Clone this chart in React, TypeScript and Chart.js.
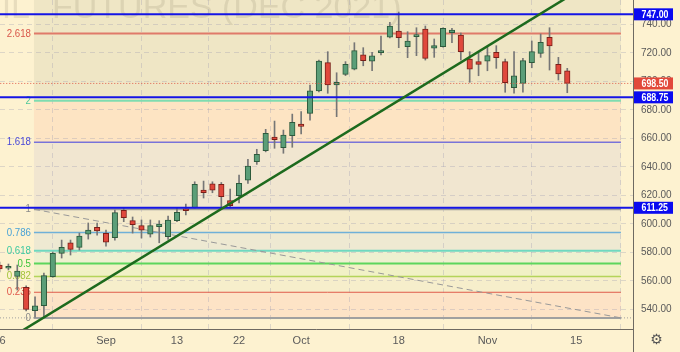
import React, { useEffect, useRef } from "react";
import { Chart, registerables } from "chart.js";

Chart.register(...registerables);

// ---------- DATA ----------
const dates = [
  "Aug 16", "Aug 17", "Aug 18", "Aug 19", "Aug 20", "Aug 23", "Aug 24", "Aug 25", "Aug 26", "Aug 27",
  "Aug 30", "Aug 31", "Sep 1", "Sep 2", "Sep 3", "Sep 6", "Sep 7", "Sep 8", "Sep 9", "Sep 10",
  "Sep 13", "Sep 14", "Sep 15", "Sep 16", "Sep 17", "Sep 20", "Sep 21", "Sep 22", "Sep 23", "Sep 24",
  "Sep 27", "Sep 28", "Sep 29", "Sep 30", "Oct 1", "Oct 4", "Oct 5", "Oct 6", "Oct 7", "Oct 8",
  "Oct 11", "Oct 12", "Oct 13", "Oct 14", "Oct 15", "Oct 18", "Oct 19", "Oct 20", "Oct 21", "Oct 22",
  "Oct 25", "Oct 26", "Oct 27", "Oct 28", "Oct 29", "Nov 1", "Nov 2", "Nov 3", "Nov 4", "Nov 5",
  "Nov 8", "Nov 9", "Nov 10", "Nov 11", "Nov 12",
];
const opens = [
  571.1, 568.8, 563.1, 555.4, 539.0, 542.5, 562.9, 579.3, 586.7, 583.5,
  592.8, 597.5, 593.3, 590.2, 609.5, 602.2, 598.7, 592.8, 598.0, 590.9,
  602.2, 610.4, 611.3, 623.7, 628.1, 627.7, 616.3, 619.7, 630.7, 643.6,
  651.3, 660.9, 653.4, 661.8, 670.0, 677.5, 693.2, 713.1, 697.4, 704.9,
  708.6, 718.5, 714.2, 720.1, 730.9, 735.3, 724.3, 731.3, 736.7, 723.2,
  724.3, 734.1, 732.5, 715.6, 713.8, 714.2, 720.3, 713.8, 695.5, 698.6,
  713.1, 719.6, 730.9, 711.9, 707.4,
];
const highs = [
  573.2, 571.8, 571.1, 556.5, 548.8, 565.5, 580.2, 588.6, 588.6, 593.5,
  600.6, 600.6, 595.6, 609.7, 611.1, 604.8, 602.7, 602.7, 602.2, 605.5,
  611.1, 613.9, 629.5, 630.0, 629.5, 629.0, 624.4, 634.2, 645.3, 652.3,
  666.3, 672.1, 665.8, 677.0, 678.7, 697.4, 714.9, 720.8, 706.0, 713.8,
  727.1, 723.6, 720.3, 731.8, 741.4, 748.6, 734.8, 737.6, 738.8, 729.7,
  737.6, 737.2, 733.9, 720.8, 720.8, 724.3, 725.0, 715.6, 720.8, 716.1,
  728.3, 733.2, 737.6, 716.8, 709.1,
];
const lows = [
  566.2, 567.6, 553.5, 538.8, 534.5, 534.2, 562.5, 576.0, 578.1, 581.6,
  589.3, 592.1, 584.4, 588.6, 601.5, 593.5, 590.0, 590.7, 586.7, 589.1,
  601.5, 606.2, 611.0, 618.1, 621.8, 611.8, 611.1, 614.6, 628.4, 641.7,
  650.5, 653.0, 649.5, 653.7, 663.0, 672.8, 692.5, 691.6, 675.2, 704.0,
  708.0, 710.9, 707.4, 718.5, 730.5, 723.6, 716.6, 718.0, 714.9, 716.8,
  724.0, 727.1, 714.9, 699.3, 703.9, 707.4, 709.1, 692.3, 691.6, 692.3,
  709.5, 716.8, 707.9, 700.9, 692.0,
];
const closes = [
  568.3, 570.2, 566.9, 540.0, 542.5, 563.6, 579.3, 583.5, 582.1, 591.4,
  595.6, 595.1, 587.2, 607.9, 604.3, 599.4, 595.6, 598.7, 599.8, 602.7,
  608.1, 609.2, 627.7, 621.8, 623.7, 619.0, 612.7, 628.4, 640.6, 648.8,
  663.5, 659.0, 662.3, 671.2, 668.4, 693.4, 714.2, 697.4, 699.3, 711.9,
  721.5, 714.5, 717.8, 721.1, 738.8, 730.6, 728.3, 732.0, 716.1, 725.0,
  737.2, 736.0, 720.8, 708.6, 711.9, 718.0, 716.6, 699.0, 703.9, 714.5,
  720.8, 727.4, 724.8, 705.1, 698.5,
];

const xTickIndex = [0, 12, 20, 27, 34, 45, 55, 65];
const xTickLabels = ["16", "Sep", "13", "22", "Oct", "18", "Nov", "15"];
const yTicks = [540, 560, 580, 600, 620, 640, 660, 680, 700, 720, 740];

const fibLevels = [0, 0.236, 0.382, 0.5, 0.618, 0.786, 1, 1.618, 2, 2.618];
const fibLabels = ["0", "0.236", "0.382", "0.5", "0.618", "0.786", "1", "1.618", "2", "2.618"];
const fibLow = 534.0;
const fibHigh = 610.2;
const fibStartIdx = 3.88;
const fibEndIdx = 70.05;

const hLines = [747.0, 688.75, 611.25];
const lastPrice = 698.5;
const trendPoints = [
  { x: 2, y: 522.9 },
  { x: 66, y: 766.5 },
];
const titleText = ["OIL", "FUTURES (DEC 2021)"];

// ---------- STYLE ----------
const CREAM = "#fdf2d0";
const GRID = "rgba(150,150,175,0.3)";
const TXT = "#5a5a5a";
const FONT_FAMILY = "'Liberation Sans', Arial, sans-serif";
const fibLineColors = ["#a0a0a0", "#e05a4a", "#b4d45a", "#5cd65c", "#6fd8c0", "#6fb0d8", "#9a9a9a", "#3a3ae0", "#7fdcb0", "#e07a6a"];
const fibLineWidths = [2, 1, 1.5, 2, 2, 1.5, 2, 1, 2, 2];
const fibTextColors = ["#8a8a8a", "#e0574a", "#a3c43a", "#3cc43c", "#3cc9a0", "#4aa3d6", "#8a8a8a", "#4848d8", "#4fc99a", "#d9574a"];
const bandColors = ["#fde3c6", "#f6eecb", "#f1f1c6", "#eef0d0", "#eee9d2", "#f4eacb", "#f1e6d0", "#fde4c3", "#efe6c5"];
const topBandColor = "#efe6c5";

const X_MIN = 0.051;
const X_MAX = 71.41;
const Y_MIN = 526.2;
const Y_MAX = 757.05;

const fibValue = (l: number) => fibLow + l * (fibHigh - fibLow);

const narrowText = (ctx: any, text: string, x: number, y: number, sx: number) => {
  ctx.save();
  ctx.translate(x, y);
  ctx.scale(sx, 1);
  ctx.fillText(text, 0, 0);
  ctx.restore();
};

const fibPlugin = {
  id: "fibPlugin",
  beforeDraw(chart: any) {
    const { ctx, chartArea: a, scales } = chart;
    const xs = scales.x;
    const ys = scales.y;
    ctx.save();
    ctx.fillStyle = CREAM;
    ctx.fillRect(0, 0, chart.width, chart.height);
    ctx.beginPath();
    ctx.rect(a.left, a.top, a.right - a.left, a.bottom - a.top);
    ctx.clip();
    const x0 = xs.getPixelForValue(fibStartIdx);
    const x1 = xs.getPixelForValue(fibEndIdx);
    for (let i = 0; i < fibLevels.length - 1; i++) {
      const yb = ys.getPixelForValue(fibValue(fibLevels[i]));
      const yt = ys.getPixelForValue(fibValue(fibLevels[i + 1]));
      ctx.fillStyle = bandColors[i];
      ctx.fillRect(x0, yt, x1 - x0, yb - yt);
    }
    const yTop = ys.getPixelForValue(fibValue(fibLevels[fibLevels.length - 1]));
    ctx.fillStyle = topBandColor;
    ctx.fillRect(x0, a.top, x1 - x0, yTop - a.top);

    // watermark
    ctx.fillStyle = "rgba(95,85,60,0.13)";
    ctx.font = "34px 'Liberation Sans', Arial, sans-serif";
    ctx.textBaseline = "alphabetic";
    ctx.textAlign = "right";
    ctx.fillText(titleText[0], 30, 18);
    ctx.textAlign = "left";
    ctx.fillText(titleText[1], 52, 18);
    ctx.restore();
  },
  beforeDatasetsDraw(chart: any) {
    const { ctx, chartArea: a, scales } = chart;
    const xs = scales.x;
    const ys = scales.y;
    ctx.save();
    ctx.beginPath();
    ctx.rect(a.left, a.top, a.right - a.left, a.bottom - a.top);
    ctx.clip();
    const x0 = xs.getPixelForValue(fibStartIdx);
    const x1 = xs.getPixelForValue(fibEndIdx);
    const y0 = ys.getPixelForValue(fibValue(0));
    ctx.strokeStyle = "#a0a0a0";
    ctx.lineWidth = 1;
    ctx.setLineDash([1, 2]);
    ctx.beginPath();
    ctx.moveTo(a.left, y0);
    ctx.lineTo(a.right, y0);
    ctx.stroke();
    ctx.setLineDash([]);
    ctx.font = `11px ${FONT_FAMILY}`;
    ctx.textAlign = "right";
    ctx.textBaseline = "middle";
    for (let i = 0; i < fibLevels.length; i++) {
      const y = ys.getPixelForValue(fibValue(fibLevels[i]));
      ctx.strokeStyle = fibLineColors[i];
      ctx.lineWidth = fibLineWidths[i];
      ctx.beginPath();
      ctx.moveTo(x0, y);
      ctx.lineTo(x1, y);
      ctx.stroke();
      ctx.fillStyle = fibTextColors[i];
      narrowText(ctx, fibLabels[i], x0 - 3, y, 0.88);
    }
    ctx.restore();
  },
  afterDraw(chart: any) {
    const { ctx, chartArea: a, scales } = chart;
    const ys = scales.y;
    ctx.save();
    const rx = Math.round(a.right) + 0.5;
    const by = Math.round(a.bottom) + 0.5;
    ctx.strokeStyle = "#6e6a62";
    ctx.lineWidth = 1;
    ctx.beginPath();
    ctx.moveTo(rx, 0);
    ctx.lineTo(rx, chart.height);
    ctx.moveTo(0, by);
    ctx.lineTo(rx, by);
    ctx.stroke();

    const box = (v: number, color: string) => {
      const y = ys.getPixelForValue(v);
      ctx.fillStyle = color;
      ctx.fillRect(a.right + 1, y - 6, 39, 12);
      ctx.fillStyle = "#ffffff";
      ctx.font = `bold 11px ${FONT_FAMILY}`;
      ctx.textAlign = "left";
      ctx.textBaseline = "middle";
      narrowText(ctx, v.toFixed(2), a.right + 8.5, y + 0.5, 0.8);
    };
    hLines.forEach((v) => box(v, "#0a0af0"));
    box(lastPrice, "#e2483a");

    ctx.fillStyle = "#555";
    ctx.font = "14px 'DejaVu Sans', sans-serif";
    ctx.textAlign = "center";
    ctx.textBaseline = "middle";
    ctx.fillText("\u2699", (a.right + chart.width) / 2, (a.bottom + chart.height) / 2);
    ctx.restore();
  },
};

export default function App() {
  const ref = useRef<HTMLCanvasElement>(null);
  useEffect(() => {
    const prev = document.body.style.margin;
    document.body.style.margin = "0";
    const idx = dates.map((_, i) => i);
    const up = idx.map((i) => closes[i] >= opens[i]);
    const font = { family: FONT_FAMILY, size: 10 };
    const chart = new Chart(ref.current as HTMLCanvasElement, {
      type: "bar",
      data: {
        datasets: [
          {
            type: "line",
            data: trendPoints,
            borderColor: "#1d6a1d",
            borderWidth: 2.5,
            pointRadius: 0,
            order: 0,
          } as any,
          ...hLines.map((v) => ({
            type: "line",
            data: [
              { x: X_MIN - 2, y: v },
              { x: X_MAX + 2, y: v },
            ],
            borderColor: "#1414e6",
            borderWidth: 2,
            pointRadius: 0,
            order: 1,
          })),
          {
            type: "line",
            data: [
              { x: X_MIN - 2, y: lastPrice },
              { x: X_MAX + 2, y: lastPrice },
            ],
            borderColor: "#e0604c",
            borderWidth: 1,
            borderDash: [1, 2],
            pointRadius: 0,
            order: 1,
          } as any,
          {
            type: "bar",
            data: idx.map((i) => ({ x: i, y: [opens[i], closes[i]] })),
            backgroundColor: up.map((u) => (u ? "#5b9e78" : "#e0483c")),
            borderColor: up.map((u) => (u ? "#2d5a3c" : "#7a1f18")),
            borderWidth: 1,
            borderSkipped: false,
            barThickness: 5.5,
            minBarLength: 2,
            grouped: false,
            order: 2,
          } as any,
          {
            type: "bar",
            data: idx.map((i) => ({ x: i, y: [lows[i], highs[i]] })),
            backgroundColor: "#767676",
            borderWidth: 0,
            barThickness: 1,
            grouped: false,
            order: 3,
          } as any,
          {
            type: "line",
            data: [
              { x: fibStartIdx, y: fibValue(1) },
              { x: fibEndIdx, y: fibValue(0) },
            ],
            borderColor: "#999999",
            borderWidth: 1,
            borderDash: [6, 4],
            pointRadius: 0,
            order: 4,
          } as any,
        ],
      },
      options: {
        responsive: false,
        devicePixelRatio: 1,
        animation: false,
        layout: { padding: 0 },
        plugins: { legend: { display: false }, tooltip: { enabled: false } },
        scales: {
          x: {
            type: "linear",
            min: X_MIN,
            max: X_MAX,
            offset: false,
            grid: { color: GRID, drawTicks: false },
            border: { display: false, dash: [5, 4] },
            ticks: {
              autoSkip: false,
              maxRotation: 0,
              color: TXT,
              font: { family: FONT_FAMILY, size: 11 },
              padding: 5,
              callback: (_v: any, i: number) => xTickLabels[i],
            },
            afterBuildTicks: (s: any) => {
              s.ticks = xTickIndex.map((v) => ({ value: v }));
            },
            afterFit: (s: any) => {
              s.height = 23;
              s.paddingLeft = 0;
              s.paddingRight = 0;
              s.paddingTop = 0;
              s.paddingBottom = 0;
            },
          },
          y: {
            type: "linear",
            position: "right",
            min: Y_MIN,
            max: Y_MAX,
            grid: { color: GRID, drawTicks: false },
            border: { display: false, dash: [5, 4] },
            ticks: {
              color: TXT,
              font,
              padding: 8,
              callback: (v: any) => Number(v).toFixed(2),
            },
            afterBuildTicks: (s: any) => {
              s.ticks = yTicks.map((v) => ({ value: v }));
            },
            afterFit: (s: any) => {
              s.width = 47;
              s.paddingLeft = 0;
              s.paddingRight = 0;
              s.paddingTop = 0;
              s.paddingBottom = 0;
            },
          },
        },
      } as any,
      plugins: [fibPlugin],
    });
    return () => {
      chart.destroy();
      document.body.style.margin = prev;
    };
  }, []);
  return (
    <div style={{ position: "fixed", left: 0, top: 0, width: 680, height: 352, background: CREAM }}>
      <canvas ref={ref} width={680} height={352} style={{ display: "block", width: 680, height: 352 }} />
    </div>
  );
}
